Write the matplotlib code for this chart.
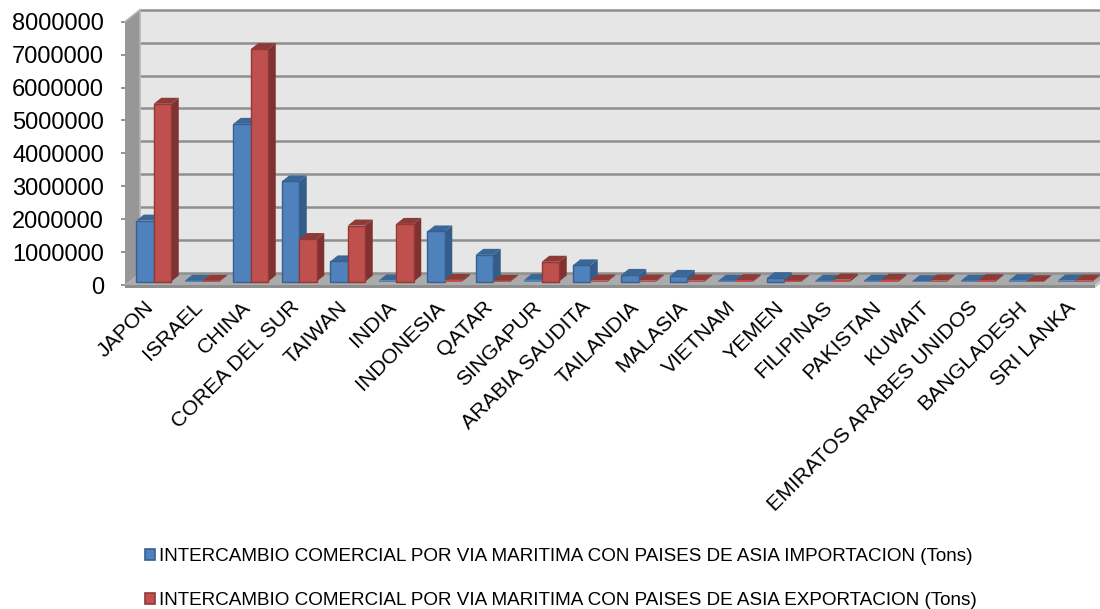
import matplotlib
matplotlib.use('Agg')
import matplotlib.pyplot as plt
from matplotlib.patches import Polygon, Patch

plt.rcParams['font.family'] = ['Liberation Sans', 'DejaVu Sans']

paises = ['JAPON', 'ISRAEL', 'CHINA', 'COREA DEL SUR', 'TAIWAN', 'INDIA', 'INDONESIA', 'QATAR',
          'SINGAPUR', 'ARABIA SAUDITA', 'TAILANDIA', 'MALASIA', 'VIETNAM', 'YEMEN', 'FILIPINAS',
          'PAKISTAN', 'KUWAIT', 'EMIRATOS ARABES UNIDOS', 'BANGLADESH', 'SRI LANKA']
importacion = [1850000, 20000, 4790000, 3040000, 610000, 30000, 1520000, 810000, 50000, 490000,
               200000, 170000, 20000, 100000, 20000, 20000, 10000, 20000, 40000, 30000]
exportacion = [5400000, 20000, 7060000, 1290000, 1700000, 1750000, 50000, 20000, 600000, 30000,
               30000, 30000, 40000, 20000, 60000, 50000, 30000, 40000, 10000, 30000]
ticks_y = [0, 1000000, 2000000, 3000000, 4000000, 5000000, 6000000, 7000000, 8000000]
nombre_imp = 'INTERCAMBIO COMERCIAL POR VIA MARITIMA CON PAISES DE ASIA IMPORTACION (Tons)'
nombre_exp = 'INTERCAMBIO COMERCIAL POR VIA MARITIMA CON PAISES DE ASIA EXPORTACION (Tons)'

W, H = 1100, 609
fig = plt.figure(figsize=(W / 100, H / 100), dpi=100)
# plano frontal del grafico, en pixeles
x0, x1, y_base, y_top = 125, 1095, 285, 21.7
ax = fig.add_axes([x0 / W, 1 - y_base / H, (x1 - x0) / W, (y_base - y_top) / H])
ax.set_xlim(0, 20)
ax.set_ylim(0, 8000000)
ax.patch.set_visible(False)
for s in ax.spines.values():
    s.set_visible(False)

# pixeles a unidades de datos
px = 20 / (x1 - x0)
py = 8000000 / (y_base - y_top)
dx, dy = 15 * px, 12 * py


def poly(pts, fc, ec='none', lw=0, z=1):
    ax.add_patch(Polygon(pts, closed=True, facecolor=fc, edgecolor=ec, linewidth=lw, zorder=z, clip_on=False))


# paredes y piso
poly([(dx, dy), (20 + 2 * dx, dy), (20 + 2 * dx, 8000000 + dy), (dx, 8000000 + dy)], '#E6E6E6', z=1)
poly([(0, 0), (dx, dy), (dx, 8000000 + dy), (0, 8000000)], '#979797', z=1)
poly([(0, 0), (dx, dy), (20 + dx, dy), (20, 0)], '#ABABAB', z=1)
poly([(0, 0), (20, 0), (20, -3 * py), (0, -3 * py)], '#8E8E8E', z=1)
poly([(20, 0), (20 + dx, dy), (20 + dx, dy - 3 * py), (20, -3 * py)], '#C8C8C8', z=1)
for v in ticks_y:
    ax.plot([dx, 20 + 2 * dx], [v + dy, v + dy], color='#8F8F8F', lw=1.8, zorder=2, clip_on=False, solid_capstyle='butt')
ax.plot([dx, dx], [dy, 8000000 + dy], color='#B4B4B4', lw=1.2, zorder=2, clip_on=False)
ax.plot([0, dx], [8000000, 8000000 + dy], color='#B4B4B4', lw=1.2, zorder=2, clip_on=False)

# barras con profundidad
ancho = 17.5 * px
off_x, off_y = 4.5 * px, 3.5 * py
bx, by = 7.5 * px, 6 * py
estilo_imp = dict(front='#4F81BD', edge='#38608F', side='#355D8A', top='#3B6797')
estilo_exp = dict(front='#C0504D', edge='#8F3A38', side='#7F3230', top='#8E3A37')

for i in range(len(paises)):
    c = i + 0.5 + off_x
    for izq, val, e in ((c - ancho, importacion[i], estilo_imp), (c, exportacion[i], estilo_exp)):
        base = off_y
        der = izq + ancho
        tope = base + val
        poly([(der, base), (der + bx, base + by), (der + bx, tope + by), (der, tope)], e['side'], z=3 + i * 0.01)
        poly([(izq, tope), (izq + bx, tope + by), (der + bx, tope + by), (der, tope)], e['top'], z=3 + i * 0.01)
        # las barras casi nulas se ven solo como la tapa
        ax.bar(izq, val, width=ancho, bottom=base, align='edge', color=e['front'], edgecolor=e['edge'],
               linewidth=1.0 if val > 60000 else 0, zorder=3 + i * 0.01, clip_on=False)

ax.set_yticks(ticks_y)
ax.set_yticklabels([str(v) for v in ticks_y], fontsize=17)
ax.tick_params(axis='y', length=3, width=1.2, color='#808080', pad=12)
ax.set_xticks([i + 0.5 - 0.11 for i in range(len(paises))])
ax.set_xticklabels(paises, fontsize=15.3, rotation=45, ha='right', rotation_mode='anchor')
ax.tick_params(axis='x', length=0, pad=9)

handles = [Patch(facecolor='#4F81BD', edgecolor='#38608F', linewidth=1.2),
           Patch(facecolor='#C0504D', edgecolor='#8F3A38', linewidth=1.2)]
fig.legend(handles, [nombre_imp, nombre_exp], loc='upper left', bbox_to_anchor=(145 / W, 1 - 548 / H),
           frameon=False, fontsize=13.6, handlelength=0.55, handleheight=0.55, handletextpad=0.2,
           labelspacing=1.44, borderpad=0, borderaxespad=0)

fig.savefig('out.png', dpi=100)
